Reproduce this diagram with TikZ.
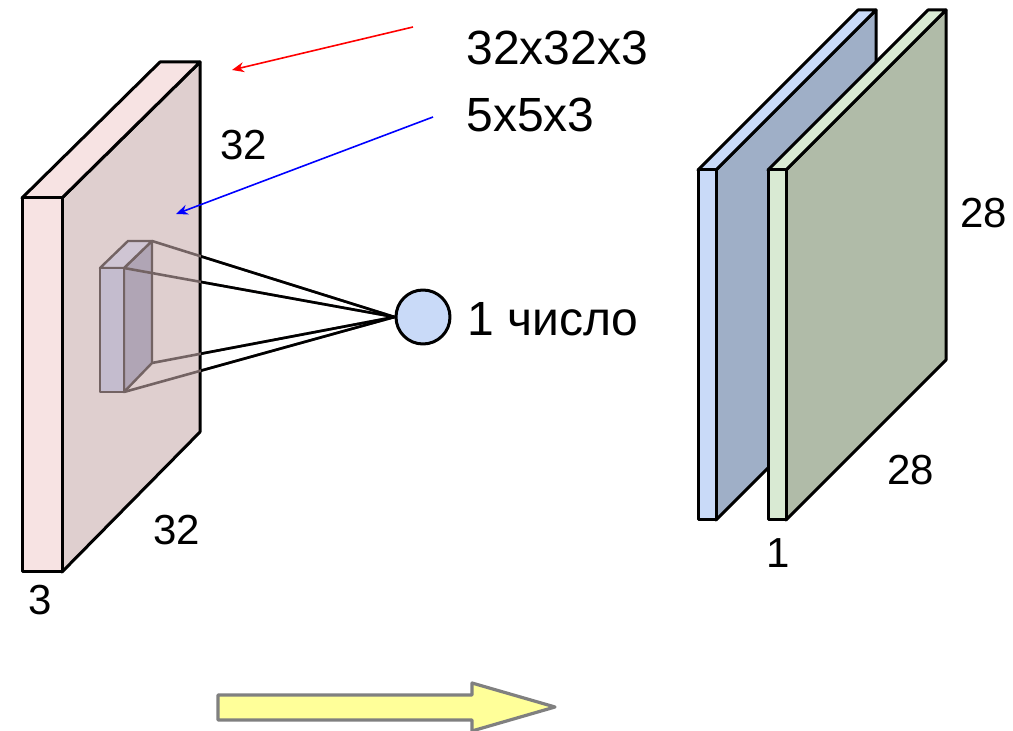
\documentclass[tikz,border=0pt]{standalone}
\usepackage{fontspec}
\setmainfont{Liberation Sans}
\usetikzlibrary{positioning, arrows.meta}

\definecolor{inlight}{HTML}{F7E3E3}
\definecolor{inside}{HTML}{DFCFCF}
\definecolor{filtfront}{HTML}{C4BCCE}
\definecolor{filttop}{HTML}{CFC5D3}
\definecolor{filtside}{HTML}{B0A5B5}
\definecolor{filtline}{HTML}{736363}
\definecolor{dotblue}{HTML}{C9DAF8}
\definecolor{mapblue}{HTML}{C9DAF8}
\definecolor{mapblueside}{HTML}{9FAFC7}
\definecolor{mapgreen}{HTML}{D9EAD3}
\definecolor{mapgreenside}{HTML}{B0BBA8}
\definecolor{arrowfill}{HTML}{FFFF99}

\begin{document}
\begin{tikzpicture}[x=0.5pt, y=-0.5pt, line join=round,
    face/.style={draw=black, line width=1.5pt},
    filt/.style={draw=filtline, line width=1.2pt},
    lbl/.style={inner sep=0pt, anchor=base west, font=\fontsize{21}{25}\selectfont},
    big/.style={lbl, font=\fontsize{24}{29}\selectfont}]

    \useasboundingbox (0,0) rectangle (1013,731);

    % input volume 32x32x3
    \filldraw[face, fill=inside] (62,198) -- (200,62) -- (200,432) -- (62,572) -- cycle;
    \filldraw[face, fill=inlight] (22,198) -- (62,198) -- (200,62) -- (160,62) -- cycle;
    \filldraw[face, fill=inlight] (22,198) rectangle (62,572);

    % filter 5x5x3
    \coordinate (f1) at (152,241);
    \coordinate (f2) at (124,268);
    \coordinate (f3) at (152,363);
    \coordinate (f4) at (124,392);
    \filldraw[filt, fill=filtside] (f2) -- (f1) -- (f3) -- (f4) -- cycle;
    \filldraw[filt, fill=filttop] (100,268) -- (f2) -- (f1) -- (128,241) -- cycle;
    \filldraw[filt, fill=filtfront] (100,268) rectangle (f4);

    \node[circle, draw=black, line width=1.5pt, fill=dotblue, minimum size=27pt,
        inner sep=0pt] (dot) at (423,317) {};

    \foreach \c in {f1, f2, f3, f4}
        \draw[filtline, line width=1.3pt] (\c) -- (dot.west);
    \begin{scope}
        \clip (201,0) rectangle (1013,731);
        \foreach \c in {f1, f2, f3, f4}
            \draw[black, line width=1.3pt] (\c) -- (dot.west);
    \end{scope}

    % activation maps
    \filldraw[face, fill=mapblueside] (716,170) -- (876,10) -- (876,360) -- (716,520) -- cycle;
    \filldraw[face, fill=mapblue] (698,170) -- (716,170) -- (876,10) -- (858,10) -- cycle;
    \filldraw[face, fill=mapblue] (698,170) rectangle (716,520);

    \filldraw[face, fill=mapgreenside] (786,170) -- (946,10) -- (946,360) -- (786,520) -- cycle;
    \filldraw[face, fill=mapgreen] (768,170) -- (786,170) -- (946,10) -- (928,10) -- cycle;
    \filldraw[face, fill=mapgreen] (768,170) rectangle (786,520);

    % labels
    \node[big] (vol) at (466,65) {32x32x3};
    \node[big] (filter) at (466,132) {5x5x3};
    \node[lbl] (height) at (220,160) {32};
    \node[lbl] (width) at (153,545) {32};
    \node[lbl] (depth) at (28,615) {3};
    \node[big] (out) at (467,336) {1 число};
    \node[lbl] (mapheight) at (960,228) {28};
    \node[lbl] (mapwidth) at (887,485) {28};
    \node[lbl] (mapdepth) at (766,568) {1};

    \coordinate (redstart) at (413,27);
    \coordinate (redend) at (232,70);
    \coordinate (bluestart) at (433,117);
    \coordinate (blueend) at (176,214);
    \draw[red, line width=0.8pt, -{Stealth[length=6pt, width=5pt]}] (redstart) -- (redend);
    \draw[blue, line width=0.8pt, -{Stealth[length=6pt, width=5pt]}] (bluestart) -- (blueend);

    % slide arrow
    \filldraw[draw=gray, line width=1.6pt, fill=arrowfill]
        (218,695) -- (472,695) -- (472,683) -- (555,707) -- (472,731)
        -- (472,720) -- (218,720) -- cycle;
\end{tikzpicture}
\end{document}
